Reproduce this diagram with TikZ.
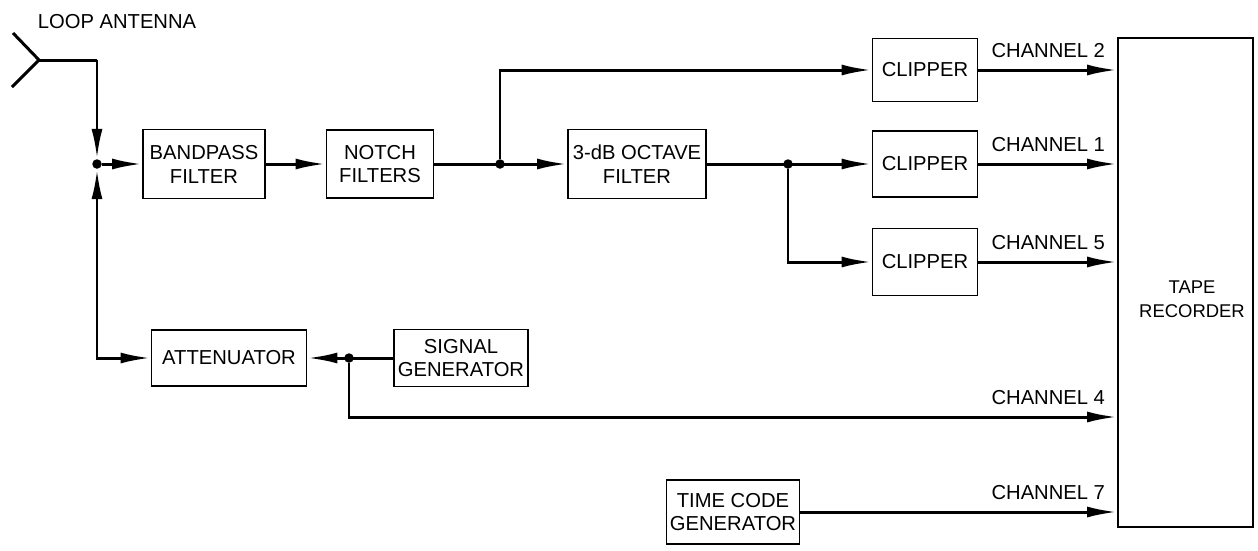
\documentclass[tikz,border=0pt]{standalone}
\usepackage{fontspec}
\setmainfont{Liberation Sans}
\usetikzlibrary{arrows, arrows.meta}

\tikzset{
  blk/.style={draw, line width=1.1pt, align=center, inner sep=0pt},
  wire/.style={line width=1.7pt},
  feed/.style={wire, -{Latex[length=6mm, width=2.2mm]}},
  dot/.style={circle, fill, inner sep=0pt, minimum size=1.9mm},
  chan/.style={above left, inner sep=6pt},
}

\begin{document}
\begin{tikzpicture}[x=0.2mm, y=-0.2mm, font=\fontsize{11.5}{13.6}\selectfont]
\useasboundingbox (0,0) rectangle (1258,550);
%\draw[step=50,gray,very thin] (0,0) grid (1250,550); %background grid
%antenna
\node (looplbl) at (117,22) {LOOP ANTENNA};
\coordinate (ant) at (39,60);
\coordinate (bend) at (97,60);
\draw[wire] (13,33) -- (ant) -- (12,87);
%blocks
\node[blk, minimum width=24.4mm, minimum height=13.8mm] (bandpass) at (204,164) {BANDPASS\\FILTER};
\node[blk, minimum width=21.4mm, minimum height=13.6mm] (notch) at (380,164) {NOTCH\\FILTERS};
\node[blk, minimum width=27.6mm, minimum height=13.8mm] (octave) at (637,164) {3-dB OCTAVE\\FILTER};
\node[blk, minimum width=21mm, minimum height=12.6mm] (clip2) at (925,70) {CLIPPER};
\node[blk, minimum width=21mm, minimum height=13.2mm] (clip1) at (925,164) {CLIPPER};
\node[blk, minimum width=21mm, minimum height=13.4mm] (clip5) at (925,262) {CLIPPER};
\node[blk, minimum width=27mm, minimum height=97.8mm] (rec) at (1185.5,282.5) {};
\node[align=center, font=\fontsize{10.5}{13.6}\selectfont] (reclbl) at (1192,299) {TAPE\\RECORDER};
\node[blk, minimum width=31mm, minimum height=11.2mm] (atten) at (229,358) {ATTENUATOR};
\node[blk, minimum width=26.8mm, minimum height=11.4mm] (siggen) at (461,358) {SIGNAL\\GENERATOR};
\node[blk, minimum width=26.6mm, minimum height=12.8mm] (timecode) at (733,512) {TIME CODE\\GENERATOR};
%junctions
\node[dot] (jA) at (97,164) {};
\node[dot] (jB) at (500,164) {};
\node[dot] (jC) at (788,164) {};
\node[dot] (jD) at (349,358) {};
\coordinate (ch4) at (349,417);
%connections
\draw[wire] (ant) -- (bend);
\draw[feed] (bend) -- (jA);
\draw[feed] (jA) -- (bandpass);
\draw[wire, {Latex[length=6mm, width=2.2mm]}-{Latex[length=6mm, width=2.2mm]}] (jA) |- (atten);
\draw[feed] (bandpass) -- (notch);
\draw[feed] (notch) -- (octave);
\draw[feed] (jB) |- (clip2);
\draw[feed] (octave) -- (clip1);
\draw[feed] (jC) |- (clip5);
\draw[feed] (siggen) -- (atten);
%channels
\draw[feed] (clip2) -- (clip2 -| rec.west) node[chan] {CHANNEL 2};
\draw[feed] (clip1) -- (clip1 -| rec.west) node[chan] {CHANNEL 1};
\draw[feed] (clip5) -- (clip5 -| rec.west) node[chan] {CHANNEL 5};
\draw[feed] (jD) -- (ch4) -- (ch4 -| rec.west) node[chan] {CHANNEL 4};
\draw[feed] (timecode) -- (timecode -| rec.west) node[chan] {CHANNEL 7};
\end{tikzpicture}
\end{document}
